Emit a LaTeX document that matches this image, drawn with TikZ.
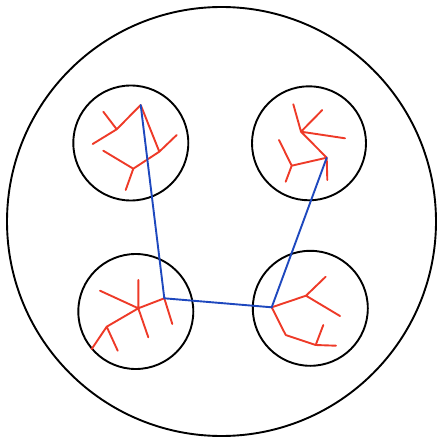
\documentclass[tikz,border=0pt]{standalone}
\begin{document}
\begin{tikzpicture}[x=1pt,y=-1pt,
  ring/.style={draw=black,line width=1.9pt,circle,inner sep=0pt},
  edge/.style={draw={rgb,255:red,238;green,58;blue,40},line width=1.9pt,line cap=round},
  link/.style={draw={rgb,255:red,30;green,72;blue,190},line width=1.9pt,line cap=round}]
\useasboundingbox (0,0) rectangle (436,438);
\node[ring,minimum size=429pt] (big) at (221.5,221.5) {};
\node[ring,minimum size=115pt] (c1) at (130.8,143) {};
\node[ring,minimum size=114pt] (c2) at (309,143.3) {};
\node[ring,minimum size=115pt] (c3) at (135.8,311.5) {};
\node[ring,minimum size=115pt] (c4) at (310.3,308.3) {};
% tree 1
\coordinate (A) at (140.7,105);
\coordinate (B) at (116.7,129.3);
\coordinate (B1) at (103.3,111.7);
\coordinate (B2) at (92.7,144);
\coordinate (C) at (159.3,151.7);
\coordinate (C1) at (176.7,135);
\coordinate (D) at (133.3,168.7);
\coordinate (D1) at (103.3,150.7);
\coordinate (D2) at (125.7,190);
\draw[edge] (A) -- (B) (B) -- (B1) (B) -- (B2) (A) -- (C) (C) -- (C1) (C) -- (D) (D) -- (D1) (D) -- (D2);
% tree 2
\coordinate (E) at (301,131.7);
\coordinate (E1) at (293.3,104.3);
\coordinate (E2) at (322.3,110);
\coordinate (E3) at (345,138.3);
\coordinate (F) at (326.7,157.7);
\coordinate (F1) at (327.3,180);
\coordinate (G) at (291.7,165.7);
\coordinate (G1) at (279,140);
\coordinate (G2) at (285.7,181.7);
\draw[edge] (E) -- (E1) (E) -- (E2) (E) -- (E3) (E) -- (F) (F) -- (F1) (F) -- (G) (G) -- (G1) (G) -- (G2);
% tree 3
\coordinate (H) at (164.3,298.3);
\coordinate (H1) at (172.3,324);
\coordinate (I) at (138.3,308.3);
\coordinate (I1) at (100,290.7);
\coordinate (I2) at (138.3,280);
\coordinate (I3) at (148.3,337.3);
\coordinate (J) at (106.7,326.7);
\coordinate (J1) at (91.7,349);
\coordinate (J2) at (117.7,350.7);
\draw[edge] (H) -- (H1) (H) -- (I) (I) -- (I1) (I) -- (I2) (I) -- (I3) (I) -- (J) (J) -- (J1) (J) -- (J2);
% tree 4
\coordinate (K) at (271.7,307.3);
\coordinate (L) at (306,295.7);
\coordinate (L1) at (325.7,276.7);
\coordinate (L2) at (340,316);
\coordinate (M) at (285.7,335);
\coordinate (N) at (315.7,345);
\coordinate (N1) at (323.3,325);
\coordinate (N2) at (336,345.7);
\draw[edge] (K) -- (L) (L) -- (L1) (L) -- (L2) (K) -- (M) (M) -- (N) (N) -- (N1) (N) -- (N2);
% blue path
\draw[link] (A) -- (H) -- (K) -- (F);
\end{tikzpicture}
\end{document}
